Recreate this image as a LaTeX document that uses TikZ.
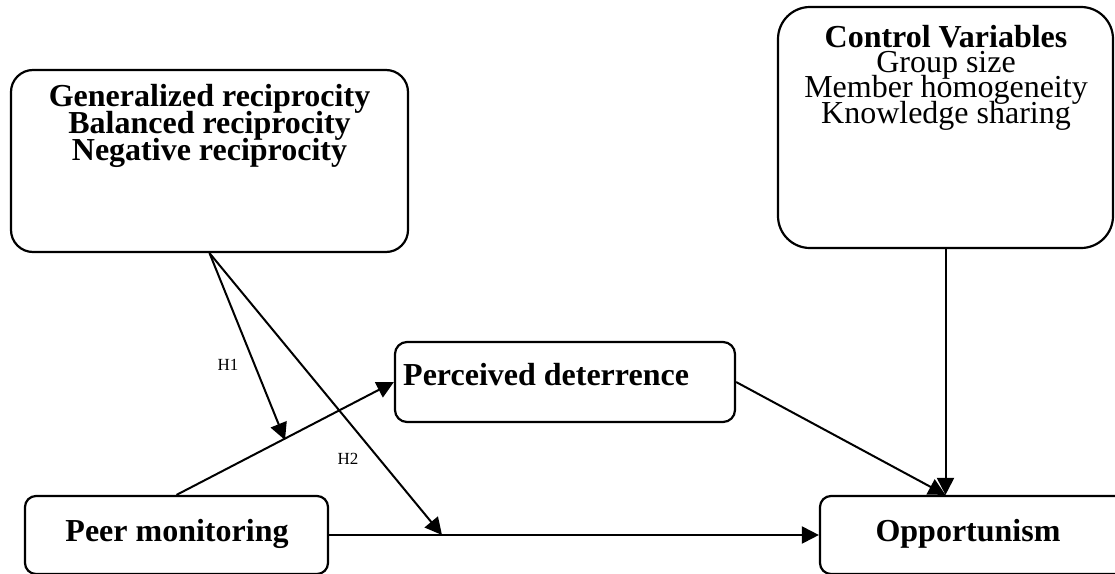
\documentclass[tikz,border=0pt]{standalone}
\usepackage{fontspec}
\setmainfont{Liberation Serif}
\usetikzlibrary{arrows.meta,calc}
\newcommand\mytightlines{\setlength{\lineskiplimit}{-100pt}\setlength{\lineskip}{0pt}}
\newcommand\mybigfont{\fontsize{32}{27}\selectfont\bfseries\mytightlines}
\newcommand\myctlfont{\fontsize{32}{25.5}\selectfont\mytightlines}
\tikzset{
  boxnode/.style={draw, line width=2.2pt, inner sep=0pt},
  conn/.style={line width=2pt, -{Triangle[length=17pt,width=17pt]}},
  bigtxt/.style={inner sep=0pt, font=\mybigfont, align=center},
  ctltxt/.style={inner sep=0pt, font=\myctlfont, align=center},
  hlabel/.style={inner sep=0pt, font=\fontsize{17}{19}\selectfont}
}
\begin{document}
\begin{tikzpicture}[x=1pt,y=-1pt]
\clip (0,0) rectangle (1115,573);
\fill[white] (0,0) rectangle (1115,573);
% boxes
\node[boxnode, rounded corners=22pt, minimum width=397pt, minimum height=182pt] (gen) at (209.5,161) {};
\node[bigtxt, anchor=base] (gentxt) at (209.5,160) {Generalized reciprocity\\Balanced reciprocity\\Negative reciprocity};
\node[boxnode, rounded corners=32pt, minimum width=335pt, minimum height=241pt] (ctl) at (945.5,127.5) {};
\node[ctltxt, anchor=base] (ctltitle) at (946,47) {\bfseries Control Variables};
\node[ctltxt, anchor=base] (ctlitems) at (946,123) {Group size\\Member homogeneity\\Knowledge sharing};
\node[boxnode, rounded corners=12pt, minimum width=340pt, minimum height=80pt] (perc) at (565,382) {};
\node[bigtxt, anchor=base west] (perctxt) at (403,385) {Perceived deterrence};
\node[boxnode, rounded corners=11pt, minimum width=303pt, minimum height=78pt] (peer) at (176.5,535) {};
\node[bigtxt, anchor=base] (peertxt) at (177,541) {Peer monitoring};
\node[boxnode, rounded corners=11pt, minimum width=310pt, minimum height=78pt] (opp) at (975,535) {};
\node[bigtxt, anchor=base] (opptxt) at (968,541) {Opportunism};
% connectors
\coordinate (h1) at (285,440);
\coordinate (h2) at (442,535);
\coordinate (oppin) at (ctl.south |- opp.north);
\draw[conn] (peer.north) -- (perc.west);
\draw[conn] (peer.east) -- (opp.west);
\draw[conn] (gen.south) -- (h1);
\draw[conn] (gen.south) -- (h2);
\draw[conn] (perc.east) -- (oppin);
\draw[conn] (ctl.south) -- (oppin);
% labels
\node[hlabel] (lh1) at (228,365) {H1};
\node[hlabel] (lh2) at (348,459) {H2};
\end{tikzpicture}
\end{document}
